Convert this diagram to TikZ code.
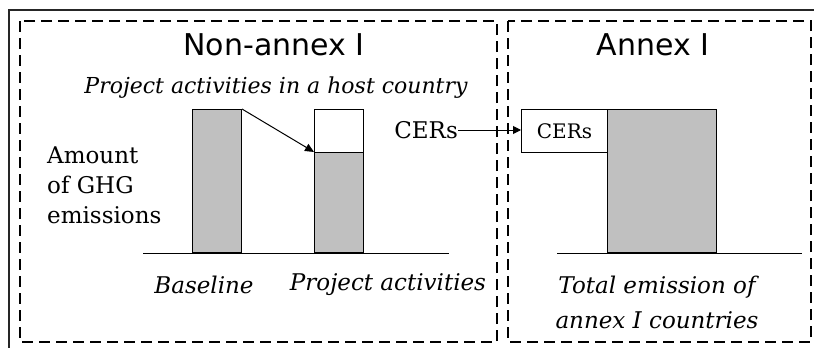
\documentclass[tikz,border=0pt]{standalone}
\usepackage{fontspec}
\setmainfont{DejaVu Serif}
\newfontfamily\titlefont{DejaVu Sans}
\usetikzlibrary{positioning,arrows.meta}
\definecolor{barGray}{RGB}{192,192,192}

\begin{document}
\begin{tikzpicture}[x=1pt, y=-1pt,
  frame/.style={draw, dash pattern=on 11pt off 6pt, line width=1.1pt},
  title/.style={font=\titlefont\fontsize{30}{36}\selectfont},
  lbl/.style={font=\fontsize{23}{35}\selectfont\itshape, align=center},
  bar/.style={draw, line width=1pt, fill=barGray, inner sep=0pt, anchor=south west},
  arr/.style={-{Triangle[length=9pt, width=8pt]}, line width=1pt}]
\useasboundingbox (0,0) rectangle (814,348);
\draw[line width=1.2pt, black!85] (9,10) rectangle (822,356);
\draw[frame] (20,21) rectangle (497,342);
\draw[frame] (508,21) rectangle (811,342);
\node[title] (nonannextitle) at (274,45) {Non-annex I};
\node[title] (annextitle) at (653,45) {Annex I};
\node[lbl, font=\fontsize{22}{26}\selectfont\itshape] (hostlabel) at (276,88) {Project activities in a host country};
\node[font=\fontsize{23}{30}\selectfont, align=left, anchor=west, inner sep=0pt] (amount) at (47,185) {Amount\\of GHG\\emissions};
% bars of the host country
\draw[line width=1pt] (143,253) -- (449,253);
\node[bar, minimum width=49pt, minimum height=143pt] (base) at (192,253) {};
\node[bar, minimum width=49pt, minimum height=100pt] (projlow) at (314,253) {};
\node[bar, fill=white, minimum width=49pt, minimum height=43pt] (projtop) at (314,153) {};
\draw[arr] (base.north east) -- (projlow.north west);
\node[lbl] (baselabel) at (204,285) {Baseline};
\node[lbl] (projlabel) at (388,285) {Project activities};
% annex I side
\draw[line width=1pt] (557,253) -- (802,253);
\node[bar, minimum width=109pt, minimum height=143pt] (total) at (607,253) {};
\node[bar, fill=white, minimum width=86pt, minimum height=43pt, font=\fontsize{20}{24}\selectfont] (cersbox) at (521,153) {CERs};
\node[font=\fontsize{23}{28}\selectfont, anchor=east, inner sep=0pt] (cerslabel) at (458,130) {CERs};
\draw[arr, -{Triangle[length=8pt, width=8pt]}] (cerslabel.east) -- (cerslabel.east -| cersbox.west);
\node[lbl] (totallabel) at (657,302) {Total emission of\\annex I countries};
\end{tikzpicture}
\end{document}
